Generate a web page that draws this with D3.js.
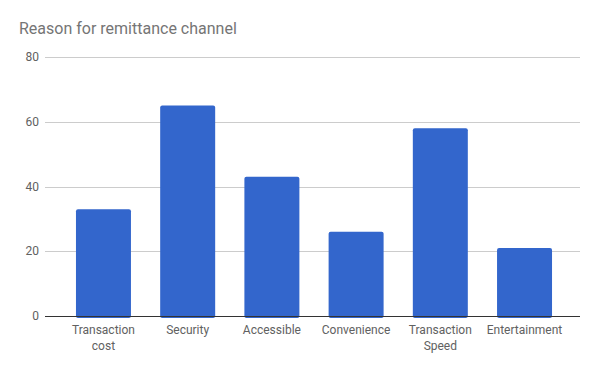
<!DOCTYPE html>
<html>
<head>
<meta charset="utf-8">
<script src="https://cdn.jsdelivr.net/npm/d3@7"></script>
<style>
  body { margin: 0; background: #fff; }
  text { font-family: Roboto, "Noto Sans", sans-serif; }
</style>
</head>
<body>
<div id="chart"></div>
<script>
// chart values
var categories = [["Transaction", "cost"], ["Security"], ["Accessible"], ["Convenience"], ["Transaction", "Speed"], ["Entertainment"]];
var counts = [33, 65, 43, 26, 58, 21];
var yTicks = [0, 20, 40, 60, 80];

var width = 600, height = 371;
var svg = d3.select("#chart").append("svg")
  .attr("width", width)
  .attr("height", height);

// title
svg.append("text")
  .attr("x", 19)
  .attr("y", 34)
  .style("font-size", "16px")
  .style("fill", "#757575")
  .text("Reason for remittance channel");

var y = d3.scaleLinear().domain([0, 80]).range([316, 57]);
var x = d3.scaleBand()
  .domain(d3.range(categories.length))
  .range([61.4, 566.6])
  .paddingInner(0.347)
  .paddingOuter(0.173);

// gridlines + y labels
var grid = svg.append("g");
grid.selectAll("line")
  .data(yTicks.filter(d => d > 0))
  .enter().append("line")
  .attr("x1", 45).attr("x2", 580)
  .attr("y1", d => Math.round(y(d)) + 0.5)
  .attr("y2", d => Math.round(y(d)) + 0.5)
  .style("stroke", "#cccccc")
  .style("stroke-width", 1);

grid.selectAll("text")
  .data(yTicks)
  .enter().append("text")
  .attr("x", 39)
  .attr("y", d => y(d) + 4)
  .attr("text-anchor", "end")
  .style("font-size", "12px")
  .style("fill", "#616161")
  .text(d => d);

// bars
svg.selectAll(".bar")
  .data(counts)
  .enter().append("rect")
  .attr("class", "bar")
  .attr("x", (d, i) => x(i))
  .attr("y", d => y(d))
  .attr("width", x.bandwidth())
  .attr("height", d => y(0) - y(d) + 2)
  .attr("rx", 2)
  .style("fill", "#3366cc");

// baseline
svg.append("line")
  .attr("x1", 45).attr("x2", 580)
  .attr("y1", 316.5).attr("y2", 316.5)
  .style("stroke", "#333333")
  .style("stroke-width", 1);

// x labels
var xl = svg.selectAll(".xlab")
  .data(categories)
  .enter().append("text")
  .attr("class", "xlab")
  .attr("text-anchor", "middle")
  .style("font-size", "12px")
  .style("fill", "#616161");

xl.selectAll("tspan")
  .data((d, i) => d.map(s => ({s: s, i: i})))
  .enter().append("tspan")
  .attr("x", d => x(d.i) + x.bandwidth() / 2)
  .attr("y", (d, j) => 334 + j * 15.5)
  .text(d => d.s);
</script>
</body>
</html>
